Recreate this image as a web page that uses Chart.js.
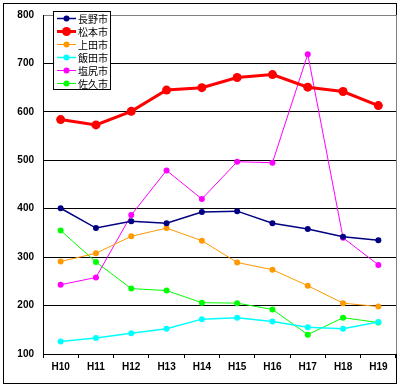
<!DOCTYPE html>
<html>
<head>
<meta charset="utf-8">
<script src="https://cdn.jsdelivr.net/npm/chart.js@4"></script>
<style>
  body { margin: 0; background: #fff; }
  canvas { display: block; }
</style>
</head>
<body>
<canvas id="chart" width="401" height="387"></canvas>
<script>
// 年度
const years = ['H10', 'H11', 'H12', 'H13', 'H14', 'H15', 'H16', 'H17', 'H18', 'H19'];

// 各市の値
const nagano    = [401, 360, 374, 370, 393, 395, 370, 358, 342, 335];
const matsumoto = [584, 573, 601, 645, 650, 671, 677, 651, 642, 613];
const ueda      = [291, 308, 343, 360, 334, 289, 274, 241, 205, 198];
const iida      = [126, 133, 143, 152, 172, 175, 167, 155, 152, 166];
const shiojiri  = [243, 258, 387, 479, 420, 497, 495, 719, 340, 284];
const saku      = [355, 290, 235, 231, 206, 205, 192, 140, 175, 165];

const yTicks = [100, 200, 300, 400, 500, 600, 700, 800];

function series(label, data, color, width, radius) {
    return {
        label: label,
        data: data,
        borderColor: color,
        backgroundColor: color,
        borderWidth: width,
        pointRadius: radius,
        pointHoverRadius: radius,
        pointBorderWidth: 0,
        tension: 0
    };
}

// 凡例（グラフ内の左上）と外枠
const frame = {
    id: 'frame',
    beforeDraw(chart) {
        const c = chart.ctx;
        c.save();
        c.fillStyle = '#fff';
        c.fillRect(0, 0, chart.width, chart.height);
        c.strokeStyle = '#000';
        c.lineWidth = 1;
        c.strokeRect(3.5, 3.5, 393, 380);
        c.restore();
    },
    afterDatasetsDraw(chart) {
        const c = chart.ctx;
        const a = chart.chartArea;
        c.save();
        c.strokeStyle = '#808080';
        c.lineWidth = 1;
        c.beginPath();
        c.moveTo(Math.round(a.right) + 0.5, a.top);
        c.lineTo(Math.round(a.right) + 0.5, a.bottom);
        c.stroke();

        const x0 = 53, y0 = 11, w = 57, h = 78;
        c.fillStyle = '#fff';
        c.fillRect(x0, y0, w, h);
        c.strokeStyle = '#000';
        c.strokeRect(x0 + 0.5, y0 + 0.5, w, h);
        c.font = '10px "Noto Sans CJK JP"';
        c.textBaseline = 'middle';
        chart.data.datasets.forEach(function(ds, i) {
            const y = 18.5 + i * 13;
            c.strokeStyle = ds.borderColor;
            c.lineWidth = ds.borderWidth;
            c.beginPath();
            c.moveTo(57, y);
            c.lineTo(76, y);
            c.stroke();
            c.fillStyle = ds.borderColor;
            c.beginPath();
            c.arc(66.5, y, ds.pointRadius, 0, Math.PI * 2);
            c.fill();
            c.fillStyle = '#000';
            c.fillText(ds.label, 78, y + 0.5);
        });
        c.restore();
    }
};

new Chart(document.getElementById('chart'), {
    type: 'line',
    data: {
        labels: years,
        datasets: [
            series('長野市', nagano, '#000080', 1.5, 3),
            series('松本市', matsumoto, '#ff0000', 3, 4.5),
            series('上田市', ueda, '#ff9900', 1, 3),
            series('飯田市', iida, '#00ffff', 1.5, 3),
            series('塩尻市', shiojiri, '#ff00ff', 1, 3),
            series('佐久市', saku, '#00ff00', 1, 3)
        ]
    },
    options: {
        responsive: false,
        animation: false,
        layout: { padding: { top: 13, right: 5, left: 0, bottom: 0 } },
        plugins: {
            legend: { display: false },
            tooltip: { enabled: false }
        },
        scales: {
            x: {
                offset: true,
                grid: {
                    offset: true,
                    drawOnChartArea: false,
                    drawTicks: true,
                    tickLength: 4,
                    color: '#000'
                },
                border: { color: '#000', width: 1 },
                ticks: {
                    color: '#000',
                    padding: 3,
                    maxRotation: 0,
                    font: { family: '"Liberation Sans"', size: 10, weight: 'bold' }
                },
                afterFit(scale) { scale.height = 33; }
            },
            y: {
                min: 100,
                max: 800,
                afterBuildTicks(scale) {
                    scale.ticks = yTicks.map(function(v) { return { value: v }; });
                },
                grid: {
                    drawTicks: false,
                    color: function(ctx) {
                        return ctx.tick && ctx.tick.value === 800 ? '#808080' : '#000';
                    }
                },
                border: { color: '#000', width: 1 },
                ticks: {
                    color: '#000',
                    padding: 9,
                    font: { family: '"Liberation Sans"', size: 10, weight: 'bold' }
                },
                afterFit(scale) { scale.width = 43; }
            }
        }
    },
    plugins: [frame]
});
</script>
</body>
</html>
